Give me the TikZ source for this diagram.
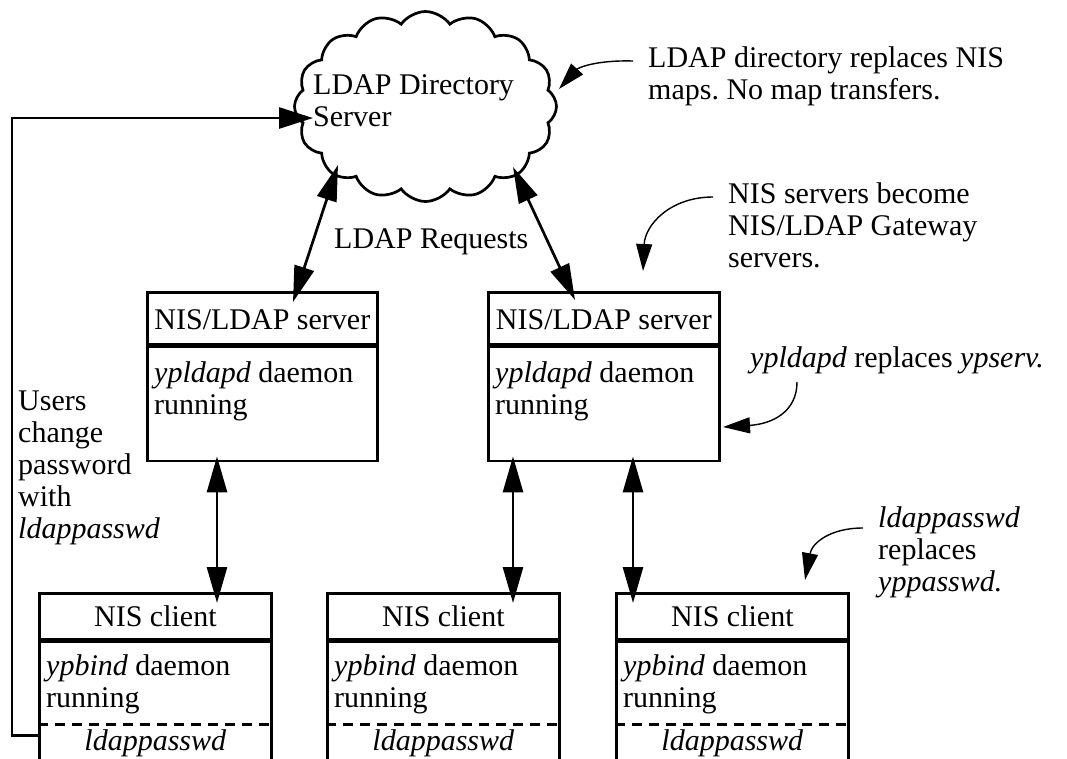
\documentclass[tikz,border=0pt]{standalone}
\usepackage{fontspec}
\setmainfont{Liberation Serif}
\frenchspacing
\usetikzlibrary{arrows.meta,shapes.symbols,calc}
\begin{document}
\begin{tikzpicture}[x=1pt,y=-1pt,
  every node/.style={font=\fontsize{30}{32}\selectfont, inner sep=0pt},
  bx/.style={draw, line width=2.7pt},
  hdrS/.style={bx, minimum height=52pt, text height=26pt, text depth=4pt, anchor=north west},
  hdrC/.style={bx, minimum height=46pt, text height=25pt, text depth=5pt, anchor=north west},
  txt/.style={anchor=base west, align=left},
  dbl/.style={line width=2.7pt, {Triangle[length=36pt,width=20pt]}-{Triangle[length=36pt,width=20pt]}},
  arr/.style={line width=2.7pt, -{Triangle[length=34pt,width=21pt]}},
  note/.style={line width=1.4pt, -{Triangle[length=27pt,width=16pt]}},
  dsh/.style={line width=2.7pt, dash pattern=on 10pt off 7pt}
]
\useasboundingbox (0,0) rectangle (1067,758);
\clip (0,0) rectangle (1067,758);

% cloud
\node[cloud, draw, line width=2.7pt, cloud puffs=16, cloud puff arc=110, cloud ignores aspect,
      minimum width=262pt, minimum height=190pt] (ldap) at (425.5,106.5) {};
% multi-line nodes: base anchor = baseline of last line
\node[txt] (ldaptxt) at (313,126) {LDAP Directory\\Server};

% server boxes
\node[hdrS, minimum width=230pt] (s1h) at (146,291) {NIS/LDAP server};
\node[bx, minimum width=230pt, minimum height=114pt, anchor=north west] (s1b) at (s1h.south west) {};
\node[txt] (s1t) at ($(s1b.north west)+(8,69)$) {\textit{ypldapd} daemon\\running};

\node[hdrS, minimum width=231pt] (s2h) at (487,291) {NIS/LDAP server};
\node[bx, minimum width=231pt, minimum height=114pt, anchor=north west] (s2b) at (s2h.south west) {};
\node[txt] (s2t) at ($(s2b.north west)+(8,69)$) {\textit{ypldapd} daemon\\running};

% client boxes
\foreach \n/\x in {c1/38, c2/326, c3/615}{
  \node[hdrC, minimum width=232pt] (\n h) at (\x,592) {NIS client};
  \node[bx, minimum width=232pt, minimum height=170pt, anchor=north west] (\n b) at (\n h.south west) {};
  \draw[dsh] ($(\n b.north west)+(0,84)$) -- ($(\n b.north east)+(0,84)$);
  \node[txt] (\n t) at ($(\n b.north west)+(8,67)$) {\textit{ypbind} daemon\\running};
  \node[anchor=base] (\n p) at ($(\n b.north)+(0,110)$) {\textit{ldappasswd}};
}

% LDAP connectors
\coordinate (ca) at (338,165);
\coordinate (cb) at (513,167);
\draw[dbl] (ca) -- ($(s1h.north west)+(147,11)$);
\draw[dbl] (cb) -- ($(s2h.north west)+(88,9)$);
\node[anchor=base west] (req) at (334,248) {LDAP Requests};

% server-client connectors
\draw[dbl] ($(s1b.south west)+(71,-6)$) -- ($(c1h.north west)+(179,11)$);
\draw[dbl] ($(s2b.south west)+(26,-6)$) -- ($(c2h.north west)+(187,11)$);
\draw[dbl] ($(s2b.south west)+(146,-6)$) -- ($(c3h.north west)+(18,11)$);

% password loop
\coordinate (ltip) at (313,118);
\draw[arr] ($(c1b.north west)+(2,95)$) -- ++(-28,0) |- (ltip);
\node[txt] (users) at (18,538) {Users\\change\\password\\with\\\textit{ldappasswd}};

% annotations
\node[txt] (n1) at (648,99) {LDAP directory replaces NIS\\maps. No map transfers.};
\coordinate (n1s) at (633,61);
\coordinate (n1e) at (559,89);
\draw[note] (n1s) .. controls (595,60) and (578,68) .. (n1e);

\node[txt] (n2) at (728,267) {NIS servers become\\NIS/LDAP Gateway\\servers.};
\coordinate (n2s) at (713,197);
\coordinate (n2e) at (643,271);
\draw[note] (n2s) .. controls (670,197) and (645,225) .. (n2e);

\node[txt] (n3) at (750,367) {\textit{ypldapd} replaces \textit{ypserv.}};
\coordinate (n3s) at (797,382);
\coordinate (n3e) at (723,427);
\draw[note] (n3s) .. controls (797,412) and (772,424) .. (n3e);

\node[txt] (n4) at (878,591) {\textit{ldappasswd}\\replaces\\\textit{yppasswd.}};
\coordinate (n4s) at (863,528);
\coordinate (n4e) at (805,580);
\draw[note] (n4s) .. controls (830,528) and (812,543) .. (n4e);
\end{tikzpicture}
\end{document}
